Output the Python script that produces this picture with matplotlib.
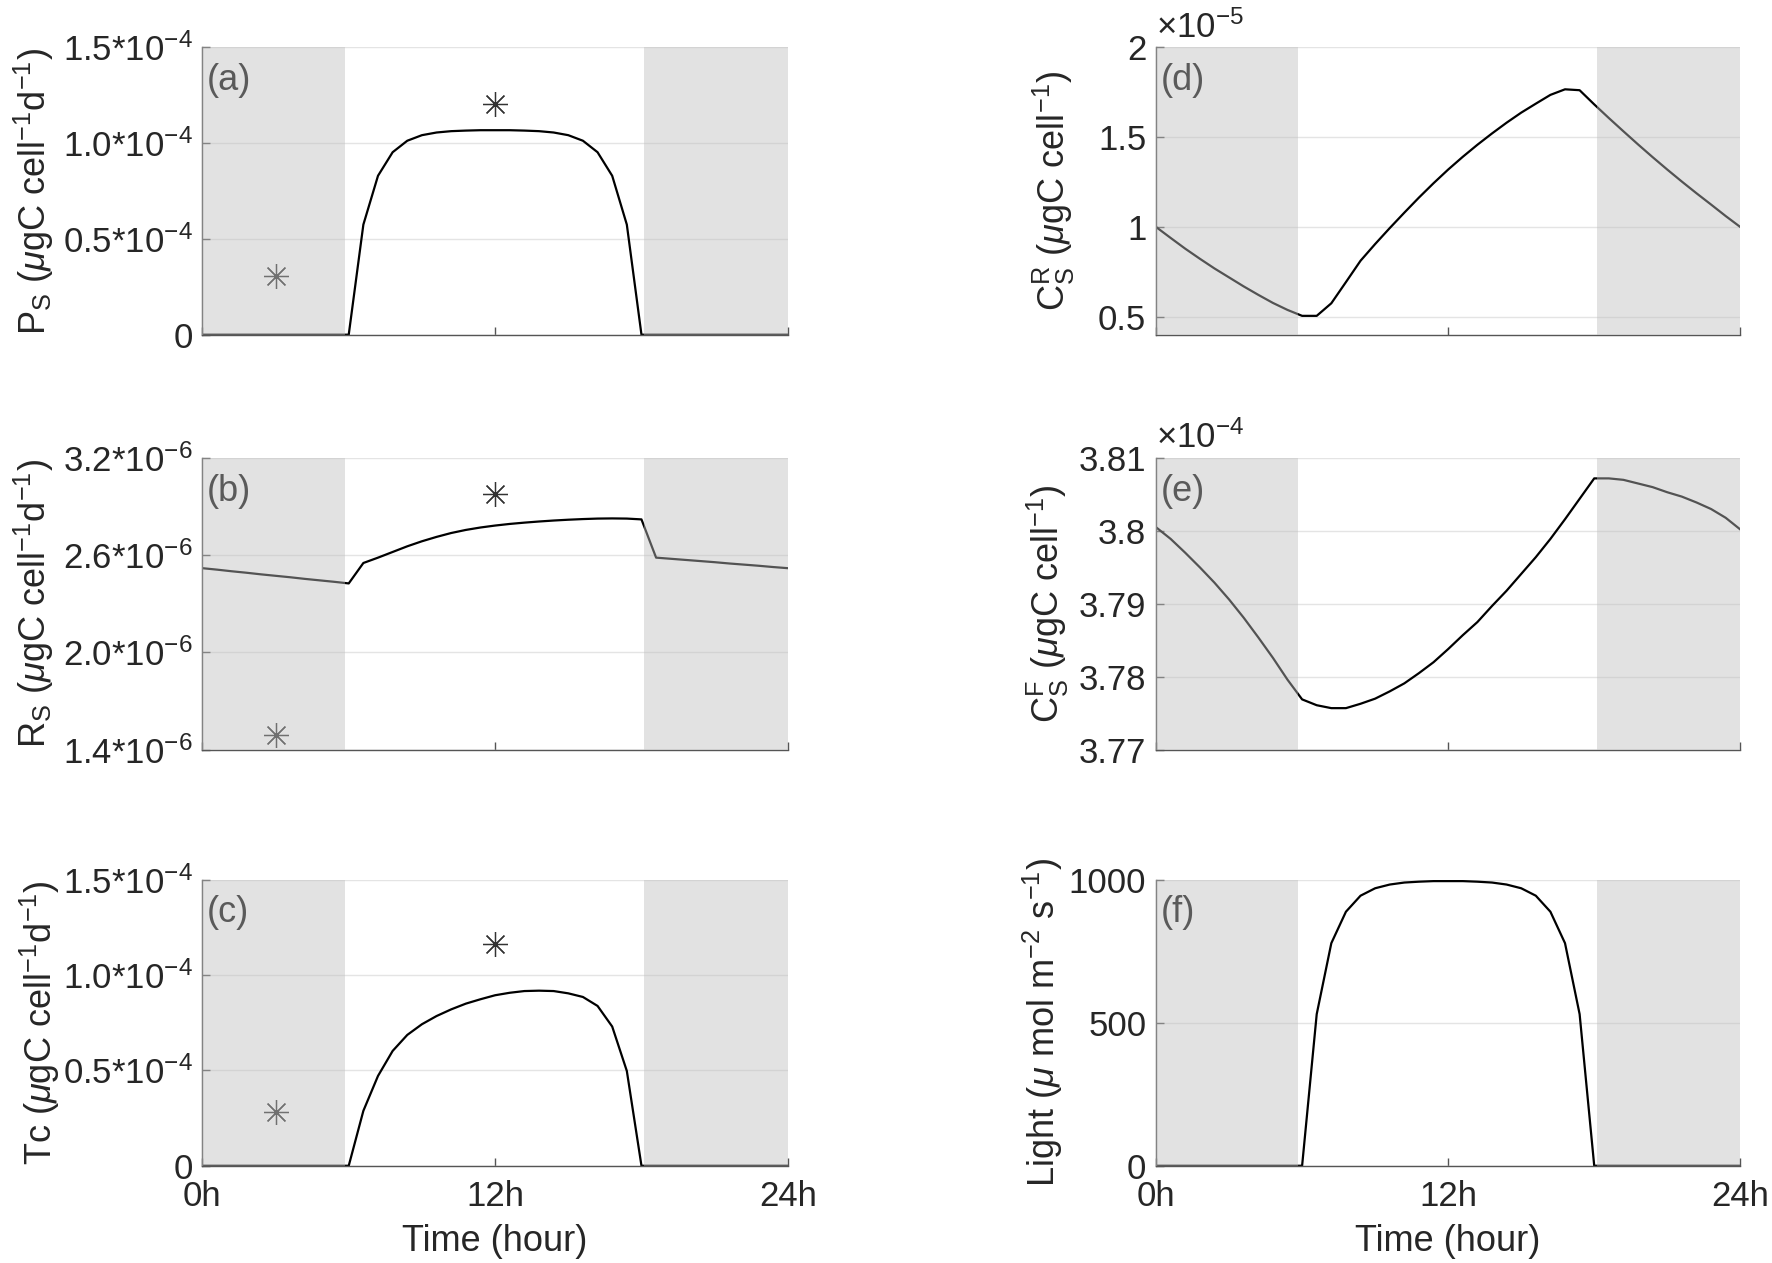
import matplotlib
matplotlib.use("Agg")
import matplotlib.pyplot as plt

plt.rcParams["font.family"] = ["Liberation Sans", "DejaVu Sans"]
plt.rcParams["mathtext.fontset"] = "custom"
plt.rcParams["mathtext.rm"] = "Liberation Sans"
plt.rcParams["mathtext.it"] = "Liberation Sans:italic"

# model time grid (hours), 0.6 h steps
hours = [0.0, 0.6, 1.2, 1.8, 2.4, 3.0, 3.6, 4.2, 4.8, 5.4, 6.0,
         6.6, 7.2, 7.8, 8.4, 9.0, 9.6, 10.2, 10.8, 11.4, 12.0,
         12.6, 13.2, 13.8, 14.4, 15.0, 15.6, 16.2, 16.8, 17.4, 18.0,
         18.6, 19.2, 19.8, 20.4, 21.0, 21.6, 22.2, 22.8, 23.4, 24.0]

# (a) photosynthesis, x1e-4
ps = [0, 0, 0, 0, 0, 0, 0, 0, 0, 0, 0,
      0.575, 0.83, 0.953, 1.013, 1.042, 1.056, 1.063, 1.066, 1.068, 1.068,
      1.068, 1.066, 1.063, 1.056, 1.042, 1.013, 0.953, 0.83, 0.575, 0,
      0, 0, 0, 0, 0, 0, 0, 0, 0, 0]
# (b) respiration, x1e-6
rs = [2.520, 2.511, 2.501, 2.492, 2.482, 2.473, 2.464, 2.454, 2.445, 2.436, 2.426,
      2.552, 2.585, 2.620, 2.655, 2.686, 2.713, 2.737, 2.756, 2.771, 2.783,
      2.793, 2.801, 2.808, 2.814, 2.819, 2.823, 2.826, 2.827, 2.826, 2.821,
      2.585, 2.578, 2.571, 2.564, 2.557, 2.549, 2.542, 2.535, 2.527, 2.520]
# (c) total carbon fixation, x1e-4
tc = [0, 0, 0, 0, 0, 0, 0, 0, 0, 0, 0,
      0.288, 0.471, 0.602, 0.686, 0.742, 0.785, 0.820, 0.850, 0.873, 0.894,
      0.907, 0.916, 0.918, 0.916, 0.904, 0.885, 0.838, 0.730, 0.497, 0,
      0, 0, 0, 0, 0, 0, 0, 0, 0, 0]
# (d) reserve carbon, x1e-5
cr = [1.0, 0.939, 0.879, 0.823, 0.769, 0.719, 0.669, 0.622, 0.577, 0.538, 0.505,
      0.505, 0.575, 0.693, 0.812, 0.905, 0.994, 1.080, 1.164, 1.244, 1.320,
      1.391, 1.458, 1.521, 1.581, 1.637, 1.687, 1.736, 1.767, 1.762, 1.683,
      1.607, 1.533, 1.460, 1.389, 1.320, 1.253, 1.188, 1.125, 1.061, 1.0]
# (e) functional carbon, x1e-4
cf = [3.8005, 3.7989, 3.7970, 3.7950, 3.7929, 3.7906, 3.7881, 3.7854, 3.7826, 3.7796, 3.7769,
      3.7761, 3.7757, 3.7757, 3.7763, 3.7770, 3.7780, 3.7791, 3.7805, 3.7820, 3.7838,
      3.7857, 3.7875, 3.7897, 3.7918, 3.7941, 3.7964, 3.7989, 3.8016, 3.8044, 3.8072,
      3.8072, 3.8070, 3.8065, 3.8060, 3.8053, 3.8047, 3.8039, 3.8030, 3.8018, 3.8002]
# (f) light
light = [0, 0, 0, 0, 0, 0, 0, 0, 0, 0, 0,
         530, 778, 888, 944, 970, 983, 990, 993, 995, 995,
         995, 993, 990, 983, 970, 944, 888, 778, 530, 0,
         0, 0, 0, 0, 0, 0, 0, 0, 0, 0]

# measured points (asterisks)
obs_hours = [3, 12]
ps_obs = [0.305, 1.207]
rs_obs = [1.49, 2.98]
tc_obs = [0.284, 1.164]

night = [(0, 5.85), (18.12, 24)]

panels = [
    dict(pos=[0.1142, 0.735, 0.3304, 0.2274], y=ps, scale=1e-4, obs=ps_obs,
         ylim=(0, 1.5), ticks=[0, 0.5, 1.0, 1.5],
         labels=["0", "0.5*10$^{-4}$", "1.0*10$^{-4}$", "1.5*10$^{-4}$"],
         ylabel=r"P$_{\rm S}$ ($\mu$gC cell$^{-1}$d$^{-1}$)", tag="(a)", lx=-0.25),
    dict(pos=[0.1142, 0.4064, 0.3304, 0.231], y=rs, scale=1e-6, obs=rs_obs,
         ylim=(1.4, 3.2), ticks=[1.4, 2.0, 2.6, 3.2],
         labels=["1.4*10$^{-6}$", "2.0*10$^{-6}$", "2.6*10$^{-6}$", "3.2*10$^{-6}$"],
         ylabel=r"R$_{\rm S}$ ($\mu$gC cell$^{-1}$d$^{-1}$)", tag="(b)", lx=-0.25),
    dict(pos=[0.1142, 0.077, 0.3304, 0.2265], y=tc, scale=1e-4, obs=tc_obs,
         ylim=(0, 1.5), ticks=[0, 0.5, 1.0, 1.5],
         labels=["0", "0.5*10$^{-4}$", "1.0*10$^{-4}$", "1.5*10$^{-4}$"],
         ylabel=r"Tc ($\mu$gC cell$^{-1}$d$^{-1}$)", tag="(c)", lx=-0.24),
    dict(pos=[0.6524, 0.735, 0.3297, 0.2274], y=cr, scale=1e-5, obs=None,
         ylim=(0.4, 2.0), ticks=[0.5, 1.0, 1.5, 2.0],
         labels=["0.5", "1", "1.5", "2"], offset=r"$\times$10$^{-5}$",
         ylabel=r"C$_{\rm S}^{\rm R}$ ($\mu$gC cell$^{-1}$)", tag="(d)", lx=-0.135),
    dict(pos=[0.6524, 0.4064, 0.3297, 0.231], y=cf, scale=1e-4, obs=None,
         ylim=(3.77, 3.81), ticks=[3.77, 3.78, 3.79, 3.80, 3.81],
         labels=["3.77", "3.78", "3.79", "3.8", "3.81"], offset=r"$\times$10$^{-4}$",
         ylabel=r"C$_{\rm S}^{\rm F}$ ($\mu$gC cell$^{-1}$)", tag="(e)", lx=-0.145),
    dict(pos=[0.6524, 0.077, 0.3297, 0.2265], y=light, scale=1, obs=None,
         ylim=(0, 1000), ticks=[0, 500, 1000],
         labels=["0", "500", "1000"],
         ylabel=r"Light ($\mu$ mol m$^{-2}$ s$^{-1}$)", tag="(f)", lx=-0.155),
]

fig = plt.figure(figsize=(17.72, 12.63), dpi=100)

for i, p in enumerate(panels):
    ax = fig.add_axes(p["pos"])
    s = p["scale"]
    ax.plot(hours, [v * s for v in p["y"]], color="black", lw=1.6, zorder=2)
    if p["obs"] is not None:
        ax.plot(obs_hours, [v * s for v in p["obs"]], linestyle="none",
                marker=(8, 2, 0), markersize=18, markeredgewidth=0.9,
                color="#333333", zorder=2)
    for x0, x1 in night:
        ax.axvspan(x0, x1, color="#bfbfbf", alpha=0.44, lw=0, zorder=3)

    ax.set_xlim(0, 24)
    ax.set_ylim(p["ylim"][0] * s, p["ylim"][1] * s)
    ax.set_yticks([t * s for t in p["ticks"]])
    ax.set_yticklabels(p["labels"])
    ax.set_xticks([0, 12, 24])
    bottom_row = i in (2, 5)
    if bottom_row:
        ax.set_xticklabels(["0h", "12h", "24h"])
        ax.set_xlabel("Time (hour)", fontsize=26, color="#262626", labelpad=8)
    else:
        ax.set_xticklabels([])

    ax.yaxis.grid(True, color="#e4e4e4", lw=1.0, zorder=0)
    ax.set_axisbelow(True)
    for side in ("top", "right"):
        ax.spines[side].set_visible(False)
    for side in ("left", "bottom"):
        ax.spines[side].set_color("#555555")
        ax.spines[side].set_linewidth(1.0)
    ax.tick_params(direction="in", length=6, width=1.0, color="#555555",
                   labelsize=25, labelcolor="#262626")
    ax.tick_params(axis="x", pad=10)
    ax.tick_params(axis="y", pad=7)

    ax.set_ylabel(p["ylabel"], fontsize=26, color="#262626")
    ax.yaxis.set_label_coords(p["lx"], 0.5)

    ax.text(0.008, 0.945, p["tag"], transform=ax.transAxes, ha="left", va="top",
            fontsize=26, color="#5a5a5a", zorder=5)
    if "offset" in p:
        ax.text(0.0, 1.01, p["offset"], transform=ax.transAxes, ha="left",
                va="bottom", fontsize=25, color="#262626")

fig.savefig("out.png", dpi=100)
